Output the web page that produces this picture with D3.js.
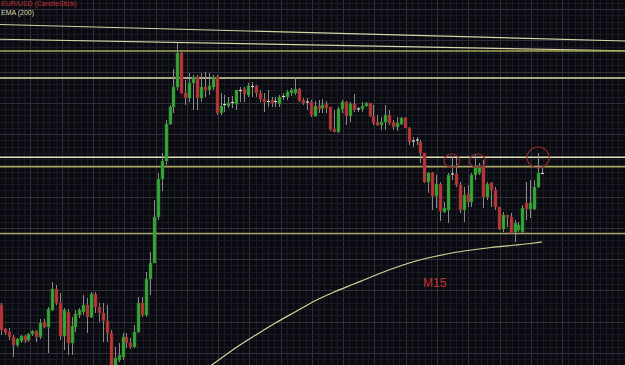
<!DOCTYPE html>
<html><head><meta charset="utf-8">
<script src="https://cdn.jsdelivr.net/npm/d3@7/dist/d3.min.js"></script>
<style>html,body{margin:0;padding:0;background:#0b0b12;overflow:hidden}svg{display:block}</style>
</head><body><svg id="c" width="625" height="365"></svg>
<script>
// ---- data (EUR/USD M15 candles) ----
const open  = [1.3195,1.3171,1.3168,1.3163,1.3155,1.3159,1.3164,1.3160,1.3166,1.3169,1.3163,1.3178,1.3173,1.3190,1.3211,1.3197,1.3164,1.3188,1.3157,1.3173,1.3185,1.3188,1.3195,1.3183,1.3206,1.3193,1.3187,1.3179,1.3167,1.3133,1.3140,1.3143,1.3163,1.3157,1.3153,1.3168,1.3197,1.3185,1.3221,1.3237,1.3283,1.3321,1.3339,1.3376,1.3393,1.3413,1.3447,1.3407,1.3402,1.3417,1.3423,1.3402,1.3413,1.3410,1.3413,1.3423,1.3387,1.3395,1.3394,1.3397,1.3396,1.3409,1.3411,1.3405,1.3413,1.3414,1.3407,1.3401,1.3399,1.3400,1.3399,1.3396,1.3403,1.3403,1.3407,1.3407,1.3411,1.3400,1.3398,1.3398,1.3384,1.3394,1.3392,1.3396,1.3393,1.3371,1.3368,1.3391,1.3398,1.3384,1.3396,1.3391,1.3391,1.3394,1.3397,1.3384,1.3378,1.3375,1.3378,1.3385,1.3378,1.3373,1.3376,1.3382,1.3372,1.3359,1.3360,1.3358,1.3347,1.3318,1.3327,1.3304,1.3316,1.3288,1.3290,1.3326,1.3326,1.3315,1.3290,1.3306,1.3298,1.3325,1.3327,1.3334,1.3303,1.3317,1.3310,1.3293,1.3271,1.3285,1.3283,1.3268,1.3270,1.3268,1.3297,1.3291,1.3291,1.3313,1.3327];
const high  = [1.3197,1.3172,1.3172,1.3165,1.3162,1.3165,1.3165,1.3167,1.3170,1.3170,1.3181,1.3181,1.3193,1.3218,1.3215,1.3207,1.3192,1.3191,1.3183,1.3190,1.3192,1.3205,1.3202,1.3208,1.3208,1.3197,1.3197,1.3195,1.3170,1.3153,1.3157,1.3167,1.3167,1.3162,1.3175,1.3203,1.3203,1.3228,1.3248,1.3300,1.3327,1.3347,1.3380,1.3395,1.3431,1.3457,1.3449,1.3420,1.3427,1.3425,1.3425,1.3427,1.3428,1.3427,1.3425,1.3425,1.3407,1.3405,1.3403,1.3404,1.3410,1.3413,1.3413,1.3417,1.3418,1.3415,1.3410,1.3407,1.3410,1.3403,1.3403,1.3405,1.3407,1.3410,1.3412,1.3423,1.3412,1.3402,1.3402,1.3400,1.3399,1.3400,1.3401,1.3399,1.3393,1.3390,1.3393,1.3400,1.3399,1.3398,1.3406,1.3393,1.3398,1.3398,1.3397,1.3395,1.3385,1.3383,1.3395,1.3390,1.3380,1.3383,1.3383,1.3383,1.3373,1.3363,1.3363,1.3360,1.3347,1.3328,1.3328,1.3325,1.3318,1.3298,1.3327,1.3343,1.3342,1.3318,1.3313,1.3315,1.3327,1.3345,1.3337,1.3340,1.3318,1.3318,1.3313,1.3293,1.3288,1.3285,1.3287,1.3280,1.3278,1.3295,1.3318,1.3320,1.3320,1.3347,1.3332];
const low   = [1.3165,1.3165,1.3160,1.3143,1.3153,1.3157,1.3157,1.3158,1.3164,1.3158,1.3161,1.3172,1.3147,1.3189,1.3195,1.3160,1.3150,1.3145,1.3145,1.3168,1.3182,1.3185,1.3167,1.3182,1.3187,1.3178,1.3158,1.3158,1.3130,1.3131,1.3138,1.3140,1.3152,1.3151,1.3152,1.3167,1.3183,1.3183,1.3205,1.3237,1.3280,1.3309,1.3335,1.3375,1.3387,1.3410,1.3406,1.3395,1.3398,1.3390,1.3390,1.3398,1.3403,1.3405,1.3410,1.3385,1.3385,1.3388,1.3392,1.3392,1.3390,1.3398,1.3398,1.3403,1.3403,1.3403,1.3398,1.3388,1.3393,1.3393,1.3393,1.3393,1.3400,1.3400,1.3404,1.3405,1.3398,1.3395,1.3390,1.3383,1.3383,1.3387,1.3387,1.3387,1.3369,1.3368,1.3367,1.3387,1.3375,1.3378,1.3388,1.3388,1.3388,1.3393,1.3383,1.3375,1.3374,1.3370,1.3370,1.3375,1.3370,1.3369,1.3375,1.3372,1.3355,1.3353,1.3355,1.3337,1.3317,1.3307,1.3290,1.3292,1.3279,1.3287,1.3277,1.3320,1.3313,1.3287,1.3278,1.3293,1.3293,1.3320,1.3325,1.3292,1.3300,1.3293,1.3290,1.3270,1.3268,1.3273,1.3266,1.3258,1.3268,1.3267,1.3280,1.3282,1.3290,1.3312,1.3326];
const close = [1.3170,1.3167,1.3163,1.3155,1.3161,1.3164,1.3159,1.3166,1.3169,1.3163,1.3177,1.3173,1.3191,1.3211,1.3197,1.3164,1.3190,1.3157,1.3174,1.3186,1.3190,1.3195,1.3183,1.3206,1.3193,1.3187,1.3179,1.3167,1.3132,1.3142,1.3145,1.3163,1.3157,1.3153,1.3168,1.3197,1.3185,1.3221,1.3237,1.3283,1.3321,1.3339,1.3376,1.3393,1.3413,1.3447,1.3407,1.3402,1.3417,1.3423,1.3402,1.3413,1.3410,1.3414,1.3423,1.3387,1.3394,1.3396,1.3397,1.3398,1.3410,1.3410,1.3406,1.3414,1.3414,1.3407,1.3401,1.3398,1.3398,1.3397,1.3398,1.3403,1.3404,1.3408,1.3410,1.3411,1.3399,1.3397,1.3398,1.3385,1.3394,1.3391,1.3395,1.3392,1.3371,1.3368,1.3391,1.3398,1.3384,1.3396,1.3390,1.3391,1.3394,1.3397,1.3384,1.3377,1.3375,1.3378,1.3385,1.3377,1.3373,1.3377,1.3382,1.3372,1.3358,1.3359,1.3360,1.3347,1.3318,1.3327,1.3304,1.3316,1.3289,1.3292,1.3325,1.3326,1.3315,1.3290,1.3305,1.3298,1.3325,1.3333,1.3334,1.3303,1.3316,1.3310,1.3293,1.3271,1.3285,1.3283,1.3267,1.3277,1.3275,1.3292,1.3291,1.3297,1.3313,1.3327,1.3326];

// EMA(200) read at candle indices
const emaIndex = [52,55,60,65,70,75,80,85,90,95,100,105,110,115,120,125,130,135,138];
const emaValue = [1.3130,1.31385,1.31525,1.3165,1.3177,1.3188,1.3199,1.3208,1.3216,1.3224,1.32315,1.3238,1.3243,1.3247,1.3250,1.32525,1.32545,1.32565,1.3258];

// horizontal support / resistance levels
const levels = [1.3449, 1.3422, 1.33427, 1.33333, 1.32665];
const levelColors = ["#a9a955", "#dcdca4", "#e2e2b8", "#a8a85a", "#a3a36e"];
// sloping trend lines [startIndex, startPrice, endIndex, endPrice]
const trendA = [-1, 1.34756, 160, 1.34589];
const trendB = [-1, 1.34608, 160, 1.34492];
// marked highs (circles): candle index, price
const markIndex = [115, 121.5, 137];
const markPrice = [1.33393, 1.33393, 1.33425];
const markRx = [7.8, 8, 11];
const markRy = [6.7, 6.7, 10.5];

// ---- drawing ----
const W = 625, H = 365;
const svg = d3.select("#c");
const x = d3.scaleLinear().domain([0, 138]).range([1, 542]);
const y = d3.scaleLinear().domain([1.3135, 1.3500]).range([H, 0]);

svg.append("rect").attr("width", W).attr("height", H).attr("fill", "#0a0a11");

// grid
const g = svg.append("g");
const major = 31.27, minor = major / 5;
d3.range(0.5 + 30 - major, W, minor).forEach((v, i) => {
  const isMajor = i % 5 === 0;
  g.append("line").attr("x1", Math.round(v) + 0.5).attr("x2", Math.round(v) + 0.5).attr("y1", 0).attr("y2", H)
    .attr("stroke", isMajor ? "#30303a" : "#1b1b25").attr("stroke-width", 1);
});
d3.range(9 - major, H, minor).forEach((v, i) => {
  const isMajor = i % 5 === 0;
  g.append("line").attr("y1", Math.round(v) + 0.5).attr("y2", Math.round(v) + 0.5).attr("x1", 0).attr("x2", W)
    .attr("stroke", isMajor ? "#30303a" : "#1b1b25").attr("stroke-width", 1);
});

// trend lines
[trendA, trendB].forEach(t => {
  svg.append("line").attr("x1", x(t[0])).attr("y1", y(t[1])).attr("x2", x(t[2])).attr("y2", y(t[3]))
    .attr("stroke", "#d6d6a6").attr("stroke-width", 1.2);
});
// levels
levels.forEach((p, i) => {
  svg.append("line").attr("x1", 0).attr("x2", W).attr("y1", y(p)).attr("y2", y(p))
    .attr("stroke", levelColors[i]).attr("stroke-width", 1.5);
});

// EMA
const emaPts = emaIndex.map((d, i) => [x(d), y(emaValue[i])]);
svg.append("path").attr("d", d3.line().curve(d3.curveMonotoneX)(emaPts))
  .attr("fill", "none").attr("stroke", "#d4d49a").attr("stroke-width", 1.2);

// candles
const candles = open.map((o, i) => ({i, o, h: high[i], l: low[i], c: close[i]}));
const cg = svg.append("g");
candles.forEach(d => {
  const cx = Math.round(x(d.i)) + 0.5;
  cg.append("line").attr("x1", cx).attr("x2", cx).attr("y1", y(d.h)).attr("y2", y(d.l))
    .attr("stroke", "#8a8a8a").attr("stroke-width", 1);
  const diff = Math.abs(d.o - d.c);
  if (diff < 0.00015) {
    cg.append("line").attr("x1", cx - 1.5).attr("x2", cx + 1.5)
      .attr("y1", y((d.o + d.c) / 2)).attr("y2", y((d.o + d.c) / 2))
      .attr("stroke", "#d8d8d8").attr("stroke-width", 1.2);
  } else {
    const up = d.c > d.o;
    cg.append("rect").attr("x", cx - 1.5).attr("width", 3)
      .attr("y", y(Math.max(d.o, d.c))).attr("height", Math.abs(y(d.o) - y(d.c)))
      .attr("fill", up ? "#36a836" : "#b8383a")
      .attr("stroke", up ? "#2a7a2a" : "#8a2a2a").attr("stroke-width", 0.5);
  }
});

// circles
markIndex.forEach((mi, k) => {
  svg.append("ellipse").attr("cx", x(mi)).attr("cy", y(markPrice[k]))
    .attr("rx", markRx[k]).attr("ry", markRy[k])
    .attr("fill", "none").attr("stroke", "#8e2a28").attr("stroke-width", 1.2);
});

// labels
svg.append("text").attr("x", 1).attr("y", 6).text("EUR/USD (CandleStick)")
  .attr("fill", "#c03232").attr("font-family", "Liberation Sans, Arial, sans-serif").attr("font-size", 7);
svg.append("text").attr("x", 1).attr("y", 14.5).text("EMA (200)")
  .attr("fill", "#dcdca4").attr("font-family", "Liberation Sans, Arial, sans-serif").attr("font-size", 7);
svg.append("text").attr("x", 423).attr("y", 287).text("M15")
  .attr("fill", "#c8302e").attr("font-family", "Liberation Sans, Arial, sans-serif").attr("font-size", 12);
</script></body></html>
